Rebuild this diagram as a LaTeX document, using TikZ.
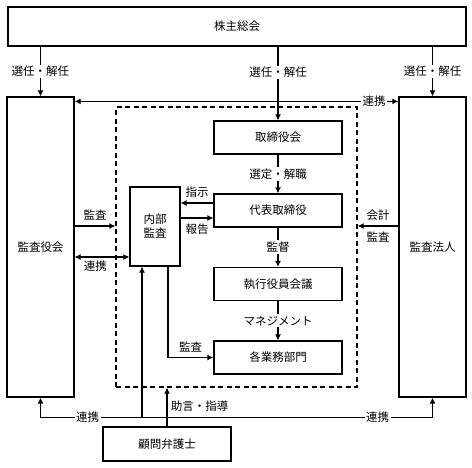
\documentclass[tikz,border=0pt]{standalone}
\usepackage{fontspec}
\setmainfont{Noto Sans CJK JP}
\usetikzlibrary{arrows.meta}
\tikzset{
  box/.style={draw, line width=1.2pt, inner sep=0pt},
  grpbox/.style={draw, line width=1.2pt, dash pattern=on 5pt off 3.5pt},
  lbl/.style={fill=white, inner sep=1.5pt},
  side/.style={inner sep=5pt},
}
\begin{document}
\begin{tikzpicture}[x=1pt,y=-1pt,line width=1.2pt,>={Latex[length=6pt,width=6pt]},font=\fontsize{11.5}{14}\selectfont]
\useasboundingbox (0,0) rectangle (472,467);
%boxes
\node[box,minimum width=458,minimum height=39] (soukai) at (237,26.5) {株主総会};
\node[box,minimum width=67,minimum height=300] (kansayaku) at (40.5,247) {監査役会};
\node[box,minimum width=67,minimum height=300] (hojin) at (432.5,247) {監査法人};
\node[grpbox,minimum width=241,minimum height=280] (grp) at (236.5,247) {};
\node[box,minimum width=128,minimum height=33] (torishimari) at (278,137.5) {取締役会};
\node[box,minimum width=128,minimum height=33] (daihyo) at (278,210.5) {代表取締役};
\node[box,minimum width=128,minimum height=33] (shikko) at (278,284) {執行役員会議};
\node[box,minimum width=128,minimum height=33] (kakugyomu) at (278,357.5) {各業務部門};
\node[box,minimum width=50,minimum height=79,align=center] (naibu) at (155,226.5) {内部\\監査};
\node[box,minimum width=128,minimum height=34] (komon) at (167,444) {顧問弁護士};
%from soukai
\draw[->] (soukai.south -| kansayaku.north) -- node[lbl]{選任・解任} (kansayaku.north);
\draw[->] (soukai.south -| hojin.north) -- node[lbl]{選任・解任} (hojin.north);
\draw[<->] ([yshift=-5pt]kansayaku.north east) -- node[lbl,pos=0.925]{連携} ([yshift=-5pt]hojin.north west);
\draw[->] (soukai.south -| torishimari.north) -- node[lbl,pos=0.35]{選任・解任} (torishimari.north);
%chain
\draw[->] (torishimari) -- node[lbl]{選定・解職} (daihyo);
\draw[->] (daihyo) -- node[lbl]{監督} (shikko);
\draw[->] (shikko) -- node[lbl]{マネジメント} (kakugyomu);
%naibu
\coordinate (shiji) at ([yshift=7.5pt]daihyo.west);
\draw[->] (shiji) -- node[side,above]{指示} (shiji -| naibu.east);
\coordinate (houkoku) at ([yshift=8.5pt]naibu.east);
\draw[->] (houkoku) -- node[side,below]{報告} (houkoku -| daihyo.west);
\coordinate (nb) at ([xshift=13pt]naibu.south);
\draw[->] (nb) |- node[side,above,pos=0.75]{監査} (kakugyomu.west);
%left and right
\coordinate (ka1) at ([yshift=21pt]kansayaku.east);
\draw[->] (ka1) -- node[side,above]{監査} (ka1 -| grp.west);
\coordinate (ka2) at ([yshift=-10pt]kansayaku.east);
\draw[<->] (ka2) -- node[below,pos=0.38]{連携} (ka2 -| naibu.west);
\coordinate (hj) at ([yshift=21pt]hojin.west);
\draw[->] (hj) -- node[side,above]{会計} node[side,below]{監査} (hj -| grp.east);
%bottom
\coordinate (bl) at ([yshift=-20pt]kansayaku.south);
\coordinate (br) at ([yshift=-20pt]hojin.south);
\draw[<->] (kansayaku.south) -- (bl) -- node[lbl,pos=0.12]{連携} node[lbl,pos=0.86]{連携} (br) -- (hojin.south);
\coordinate (nc) at ([xshift=-13pt]naibu.south);
\draw[->] (nc |- bl) -- (nc);
\draw[->] (komon.north) -- node[right,pos=0.52]{助言・指導} (komon.north |- grp.south);
\end{tikzpicture}
\end{document}
